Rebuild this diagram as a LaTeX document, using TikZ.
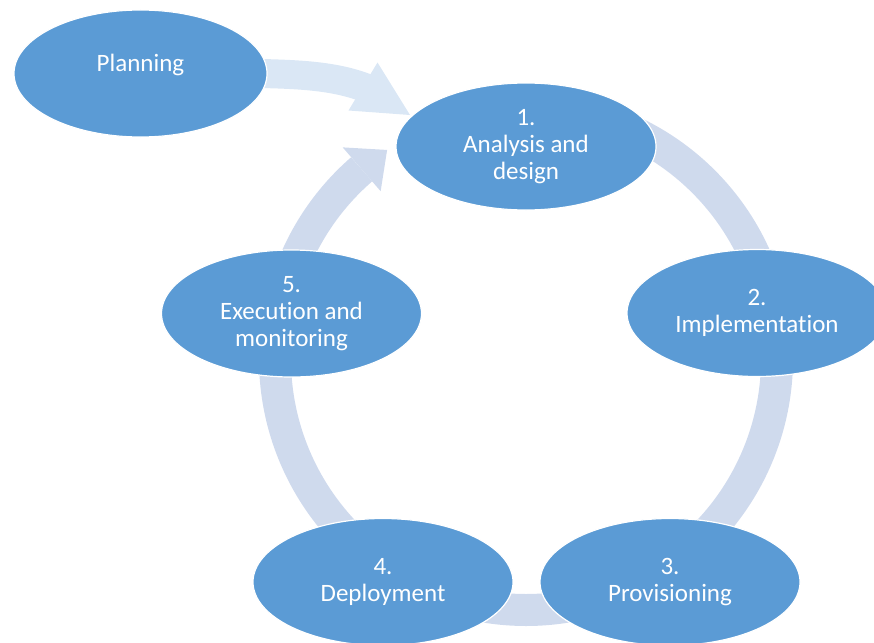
\documentclass[tikz,border=0pt]{standalone}
\usepackage{fontspec}
\setmainfont{Carlito}[Ligatures={NoCommon}]
\usetikzlibrary{shapes.geometric}
\definecolor{nodeblue}{RGB}{91,155,213}
\definecolor{ringblue}{RGB}{207,218,237}
\definecolor{planblue}{RGB}{218,231,245}
\begin{document}
\begin{tikzpicture}[x=1pt,y=1pt,
  stage/.style={ellipse, fill=nodeblue, draw=white, line width=1.2pt,
    minimum width=260pt, minimum height=127pt, inner sep=0pt,
    text=white, align=center, font=\fontsize{25}{27}\selectfont},
  ringarc/.style={draw=ringblue, line width=32pt},
  ringhead/.style={fill=ringblue},
  planline/.style={draw=planblue, line width=29pt},
  planhead/.style={fill=planblue}]
\useasboundingbox (0,0) rectangle (874,-642);
\coordinate (rc) at (526,-359);
% ring arcs
\draw[ringarc] ([shift={(90:251)}]rc) arc[start angle=90, end angle=11, radius=251];
\draw[ringarc] ([shift={(11:251)}]rc) arc[start angle=11, end angle=-57, radius=251];
\draw[ringarc] ([shift={(-57:251)}]rc) arc[start angle=-57, end angle=-123, radius=251];
\draw[ringarc] ([shift={(-123:251)}]rc) arc[start angle=-123, end angle=-191, radius=251];
\draw[ringarc] ([shift={(169:251)}]rc) arc[start angle=169, end angle=130.9, radius=251];
\coordinate (h1) at ([shift={(130.9:280)}]rc);
\coordinate (h2) at ([shift={(123.6:251)}]rc);
\coordinate (h3) at ([shift={(130.9:222)}]rc);
\fill[ringhead] (h1) -- (h2) -- (h3) -- cycle;
% planning arrow
\node[stage, minimum width=253pt] (planning) at (140.5,-73.5)
  {\phantom{x}};
\coordinate (pstart) at ([xshift=-6pt]planning.east);
\coordinate (pc1) at (300,-74.5);
\coordinate (pc2) at (335,-76);
\coordinate (pbase) at (366,-88);
\coordinate (pw1) at (377.5,-62.5);
\coordinate (ptip) at (410,-115);
\coordinate (pw2) at (348.5,-110.5);
\draw[planline] (pstart) .. controls (pc1) and (pc2) .. (pbase);
\fill[planhead] (pw1) -- (ptip) -- (pw2) -- cycle;
% nodes
\node[stage, minimum width=253pt,
  label={[yshift=8.5pt,text=white,font=\fontsize{25}{27}\selectfont]center:Planning}]
  at (planning.center) {};
\node[stage] (n1) at (526,-146.5) {1.\\Analysis and\\design};
\node[stage] (n2) at (757,-313) {2.\\Implementation};
\node[stage] (n3) at (670,-582) {3.\\Provisioning};
\node[stage] (n4) at (383,-582) {4.\\Deployment};
\node[stage] (n5) at (291.5,-313.5) {5.\\Execution and\\monitoring};
\end{tikzpicture}
\end{document}
